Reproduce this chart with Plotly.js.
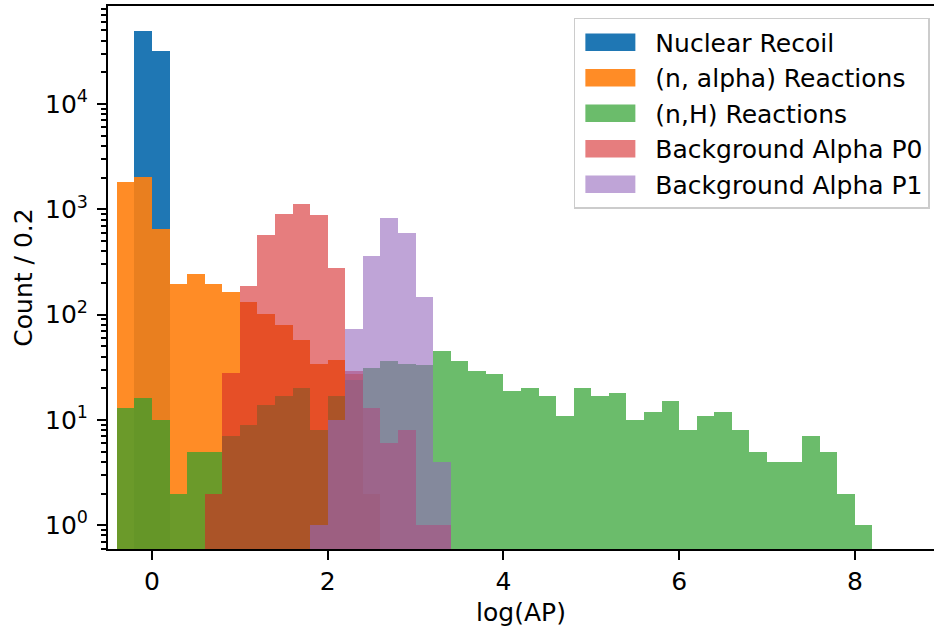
<!DOCTYPE html>
<html>
<head>
<meta charset="utf-8">
<script src="https://cdn.plot.ly/plotly-3.0.1.min.js"></script>
<style>
html, body { margin: 0; padding: 0; background: #ffffff; }
#chart { width: 934px; height: 628px; }
</style>
</head>
<body>
<div id="chart"></div>
<script>
// ---- Data (bin left edges, bin width 0.2, counts per bin) ----
const binWidth = 0.2;

const nuclearRecoilLeft = [-0.2, 0.0];
const nuclearRecoilCounts = [49400, 31900];

const nAlphaLeft = [-0.4, -0.2, 0.0, 0.2, 0.4, 0.6, 0.8, 1.0, 1.2, 1.4, 1.6, 1.8, 2.0, 2.2, 2.4];
const nAlphaCounts = [1804, 2040, 653, 195, 241, 194, 163, 133, 101, 79, 58, 34, 37, 27, 2];

const nHLeft = [-0.4, -0.2, 0.0, 0.2, 0.4, 0.6, 0.8, 1.0, 1.2, 1.4, 1.6, 1.8, 2.0, 2.2, 2.4,
                2.6, 2.8, 3.0, 3.2, 3.4, 3.6, 3.8, 4.0, 4.2, 4.4, 4.6, 4.8, 5.0, 5.2, 5.4,
                5.6, 5.8, 6.0, 6.2, 6.4, 6.6, 6.8, 7.0, 7.2, 7.4, 7.6, 7.8, 8.0];
const nHCounts = [13, 16, 10, 2, 5, 5, 7, 9, 14, 17, 20, 8, 17, 24, 31,
                  36, 34, 33, 45, 36, 29, 27, 19, 20, 17, 11, 20, 17, 18, 10,
                  12, 15, 8, 11, 12, 8, 5, 4, 4, 7, 5, 2, 1];

const bgP0Left = [0.6, 0.8, 1.0, 1.2, 1.4, 1.6, 1.8, 2.0, 2.2, 2.4, 2.6, 2.8, 3.0, 3.2];
const bgP0Counts = [2, 28, 188, 573, 896, 1115, 882, 275, 29, 13, 6, 8, 1, 1];

const bgP1Left = [1.8, 2.0, 2.2, 2.4, 2.6, 2.8, 3.0, 3.2];
const bgP1Counts = [1, 10, 73, 357, 821, 595, 147, 4];

const seriesNames = ['Nuclear Recoil', '(n, alpha) Reactions', '(n,H) Reactions',
                     'Background Alpha P0', 'Background Alpha P1'];

const xTickVals = [0, 2, 4, 6, 8];
const yTickVals = [1, 10, 100, 1000, 10000];
const yTickText = ['10<sup>0</sup>', '10<sup>1</sup>', '10<sup>2</sup>', '10<sup>3</sup>', '10<sup>4</sup>'];

// ---- Styling ----
const colors = [
  'rgb(31,119,180)',
  'rgba(255,127,14,0.9)',
  'rgba(44,160,44,0.7)',
  'rgba(214,39,40,0.6)',
  'rgba(148,103,189,0.6)'
];

const lefts = [nuclearRecoilLeft, nAlphaLeft, nHLeft, bgP0Left, bgP1Left];
const counts = [nuclearRecoilCounts, nAlphaCounts, nHCounts, bgP0Counts, bgP1Counts];

const traces = seriesNames.map((name, i) => ({
  type: 'bar',
  name: name,
  x: lefts[i],
  y: counts[i],
  width: binWidth,
  offset: 0,
  legendgroup: 'g' + i,
  marker: { color: colors[i], line: { width: 0 } },
  hoverinfo: 'x+y+name'
}));

// minor ticks for the log axis (2..9 x 10^n)
const minorVals = [];
for (let e = -1; e <= 4; e++) {
  for (let m = 2; m <= 9; m++) minorVals.push(m * Math.pow(10, e));
}

const fontFamily = 'DejaVu Sans, Verdana, sans-serif';

const layout = {
  width: 934,
  height: 628,
  margin: { l: 108, r: 0, t: 6, b: 79, pad: 0 },
  paper_bgcolor: '#ffffff',
  plot_bgcolor: '#ffffff',
  barmode: 'overlay',
  bargap: 0,
  font: { family: fontFamily, size: 25, color: '#000000' },
  showlegend: true,
  legend: {
    x: 0.995, xanchor: 'right',
    y: 0.978, yanchor: 'top',
    bgcolor: 'rgba(255,255,255,0.8)',
    bordercolor: '#cccccc',
    borderwidth: 1.5,
    font: { family: fontFamily, size: 25, color: '#000000' },
    itemwidth: 70,
    tracegroupgap: 6,
    traceorder: 'normal'
  },
  xaxis: {
    range: [-0.5009, 8.901],
    tickvals: xTickVals,
    ticktext: xTickVals.map(String),
    ticks: 'outside', ticklen: 9, tickwidth: 2, tickcolor: '#000000',
    showline: true, linewidth: 2, linecolor: '#000000', mirror: true,
    showgrid: false, zeroline: false,
    tickfont: { family: fontFamily, size: 25, color: '#000000' },
    title: { text: 'log(AP)', font: { family: fontFamily, size: 25, color: '#000000' }, standoff: 8 },
    automargin: false
  },
  yaxis: {
    type: 'log',
    range: [-0.226, 4.931],
    tickvals: yTickVals,
    ticktext: yTickText,
    ticks: 'outside', ticklen: 9, tickwidth: 2, tickcolor: '#000000',
    ticklabelstandoff: 4,
    minor: { tickvals: minorVals, ticks: 'outside', ticklen: 5, tickwidth: 1.5, tickcolor: '#000000', showgrid: false },
    showline: true, linewidth: 2, linecolor: '#000000',
    showgrid: false, zeroline: false,
    tickfont: { family: fontFamily, size: 25, color: '#000000' },
    title: { text: 'Count / 0.2', font: { family: fontFamily, size: 25, color: '#000000' }, standoff: 5 },
    automargin: false
  }
};

function widenLegendPatches(gd) {
  // widen legend patches to the wide rectangular handles of the reference
  gd.querySelectorAll('.legend .legendpoints path').forEach(p => {
    p.setAttribute('d', 'M-30,8.75H20V-8.75H-30Z');
  });
}

const gdEl = document.getElementById('chart');
Plotly.newPlot(gdEl, traces, layout, { displayModeBar: false }).then(gd => {
  widenLegendPatches(gd);
  gd.on('plotly_afterplot', () => widenLegendPatches(gd));
});
</script>
</body>
</html>
